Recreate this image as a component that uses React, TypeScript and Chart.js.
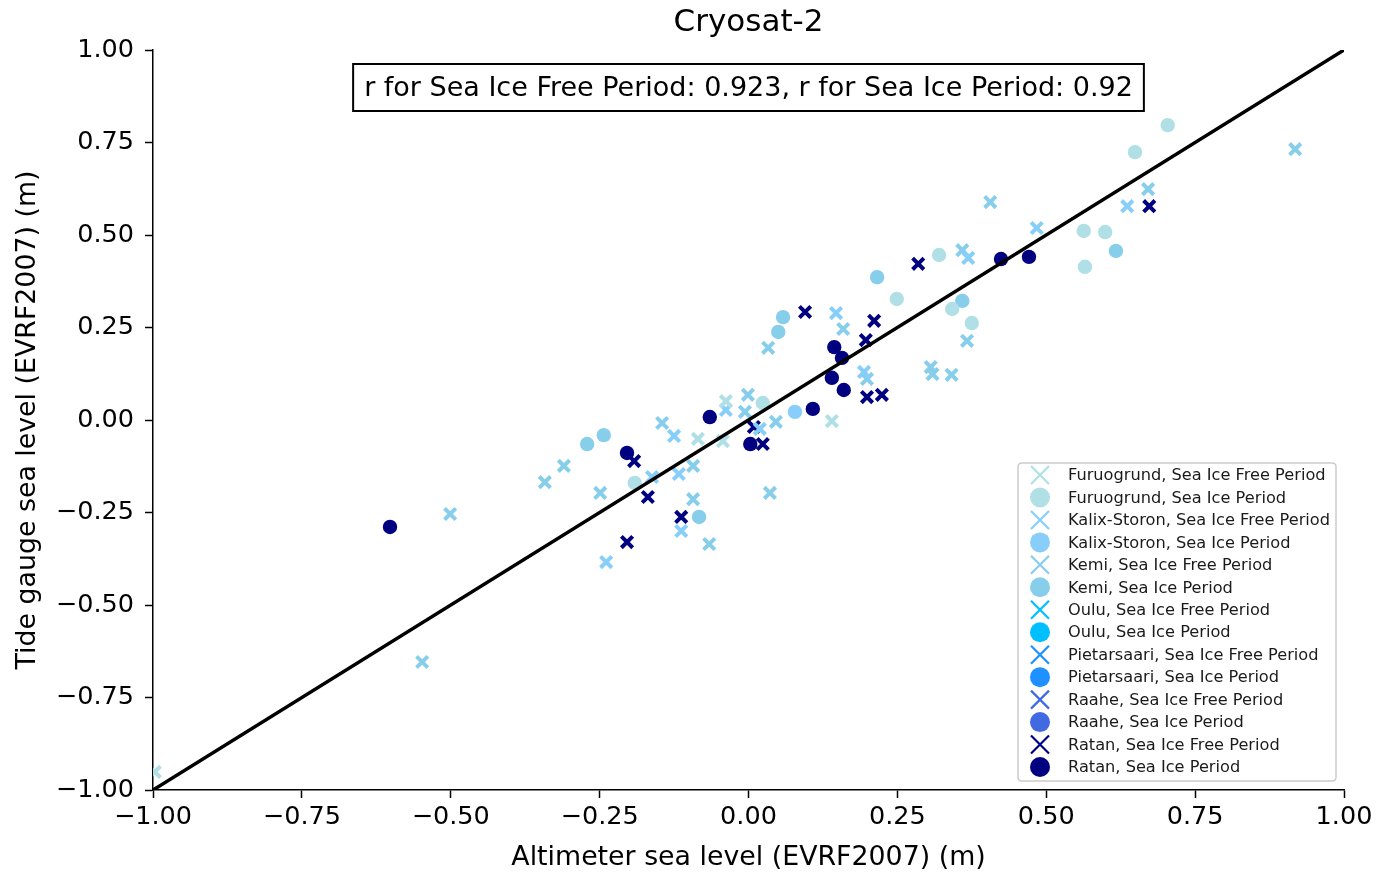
import React, { useEffect, useRef } from 'react';
import { Chart, registerables } from 'chart.js';

Chart.register(...registerables);

// ---------- data ----------
const titleText = 'Cryosat-2';
const xAxisTitle = 'Altimeter sea level (EVRF2007) (m)';
const yAxisTitle = 'Tide gauge sea level (EVRF2007) (m)';
const annotationText = 'r for Sea Ice Free Period: 0.923, r for Sea Ice Period: 0.92';
const tickValues = [-1, -0.75, -0.5, -0.25, 0, 0.25, 0.5, 0.75, 1];
const lineX = [-1, 1];
const lineY = [-1, 1];

const furuogrundFreeX = [-0.997, -0.085, -0.043, -0.038, 0.14];
const furuogrundFreeY = [-0.951, -0.051, -0.057, 0.051, -0.003];
const furuogrundIceX = [-0.191, 0.024, 0.249, 0.32, 0.342, 0.375, 0.563, 0.599, 0.565, 0.649, 0.704];
const furuogrundIceY = [-0.17, 0.046, 0.327, 0.446, 0.3, 0.262, 0.511, 0.508, 0.414, 0.724, 0.797];

const kalixFreeX = [-0.125, -0.162, -0.117, -0.113, -0.239, -0.038, 0.019, 0.147, 0.194, 0.369, 0.484, 0.636];
const kalixFreeY = [-0.043, -0.154, -0.146, -0.3, -0.384, 0.027, -0.024, 0.289, 0.13, 0.438, 0.519, 0.578];
const kalixIceX = [0.078];
const kalixIceY = [0.022];

const kemiFreeX = [-0.548, -0.501, -0.342, -0.31, -0.249, -0.145, -0.093, -0.093, -0.066, -0.001, -0.006, 0.046, 0.036, 0.033, 0.159, 0.199, 0.306, 0.309, 0.341, 0.359, 0.367, 0.406, 0.671, 0.918];
const kemiFreeY = [-0.654, -0.254, -0.168, -0.124, -0.197, -0.008, -0.124, -0.214, -0.335, 0.068, 0.022, -0.005, -0.197, 0.195, 0.246, 0.111, 0.143, 0.124, 0.122, 0.459, 0.214, 0.589, 0.624, 0.732];
const kemiIceX = [-0.271, -0.243, -0.083, 0.05, 0.058, 0.216, 0.359, 0.617];
const kemiIceY = [-0.065, -0.041, -0.262, 0.238, 0.278, 0.386, 0.322, 0.457];

const ouluFreeX: number[] = [];
const ouluFreeY: number[] = [];
const ouluIceX: number[] = [];
const ouluIceY: number[] = [];
const pietarsaariFreeX: number[] = [];
const pietarsaariFreeY: number[] = [];
const pietarsaariIceX: number[] = [];
const pietarsaariIceY: number[] = [];
const raaheFreeX: number[] = [];
const raaheFreeY: number[] = [];
const raaheIceX: number[] = [];
const raaheIceY: number[] = [];

const ratanFreeX = [-0.192, -0.169, -0.204, -0.113, 0.009, 0.024, 0.095, 0.197, 0.211, 0.199, 0.224, 0.285, 0.673];
const ratanFreeY = [-0.111, -0.208, -0.33, -0.262, -0.019, -0.065, 0.292, 0.216, 0.268, 0.062, 0.068, 0.422, 0.578];
const ratanIceX = [-0.602, -0.204, -0.065, 0.003, 0.108, 0.14, 0.144, 0.157, 0.16, 0.424, 0.471];
const ratanIceY = [-0.289, -0.089, 0.008, -0.065, 0.03, 0.114, 0.197, 0.168, 0.081, 0.435, 0.441];

const seriesNames = [
  'Furuogrund, Sea Ice Free Period',
  'Furuogrund, Sea Ice Period',
  'Kalix-Storon, Sea Ice Free Period',
  'Kalix-Storon, Sea Ice Period',
  'Kemi, Sea Ice Free Period',
  'Kemi, Sea Ice Period',
  'Oulu, Sea Ice Free Period',
  'Oulu, Sea Ice Period',
  'Pietarsaari, Sea Ice Free Period',
  'Pietarsaari, Sea Ice Period',
  'Raahe, Sea Ice Free Period',
  'Raahe, Sea Ice Period',
  'Ratan, Sea Ice Free Period',
  'Ratan, Sea Ice Period',
];
const seriesColors = [
  '#b0e0e6', '#b0e0e6',
  '#87cefa', '#87cefa',
  '#87ceeb', '#87ceeb',
  '#00bfff', '#00bfff',
  '#1e90ff', '#1e90ff',
  '#4169e1', '#4169e1',
  '#000080', '#000080',
];
const seriesX = [
  furuogrundFreeX, furuogrundIceX, kalixFreeX, kalixIceX, kemiFreeX, kemiIceX,
  ouluFreeX, ouluIceX, pietarsaariFreeX, pietarsaariIceX, raaheFreeX, raaheIceX,
  ratanFreeX, ratanIceX,
];
const seriesY = [
  furuogrundFreeY, furuogrundIceY, kalixFreeY, kalixIceY, kemiFreeY, kemiIceY,
  ouluFreeY, ouluIceY, pietarsaariFreeY, pietarsaariIceY, raaheFreeY, raaheIceY,
  ratanFreeY, ratanIceY,
];

const FONT = "'DejaVu Sans', sans-serif";

const fmt = (v: number) => Number(v).toFixed(2).replace('-', '\u2212');

const decorPlugin = {
  id: 'decor',
  afterDatasetsDraw(chart: any) {
    const ctx = chart.ctx as CanvasRenderingContext2D;
    const area = chart.chartArea;
    const cx = (area.left + area.right) / 2;
    ctx.save();
    // title
    ctx.fillStyle = '#000';
    ctx.font = `31px ${FONT}`;
    ctx.textAlign = 'center';
    ctx.textBaseline = 'middle';
    ctx.fillText(titleText, cx, 23);

    // annotation box
    ctx.font = `27px ${FONT}`;
    const tw = ctx.measureText(annotationText).width;
    const bx = cx - tw / 2 - 11;
    const bw = tw + 22;
    const by = 64;
    const bh = 47;
    ctx.fillStyle = '#fff';
    ctx.fillRect(bx, by, bw, bh);
    ctx.strokeStyle = '#000';
    ctx.lineWidth = 2;
    ctx.strokeRect(bx, by, bw, bh);
    ctx.fillStyle = '#000';
    ctx.fillText(annotationText, cx, by + bh / 2 + 1);

    // legend
    const lx = 1018, ly = 463, lw = 318, lh = 318;
    const r = 4;
    ctx.beginPath();
    ctx.moveTo(lx + r, ly);
    ctx.lineTo(lx + lw - r, ly);
    ctx.quadraticCurveTo(lx + lw, ly, lx + lw, ly + r);
    ctx.lineTo(lx + lw, ly + lh - r);
    ctx.quadraticCurveTo(lx + lw, ly + lh, lx + lw - r, ly + lh);
    ctx.lineTo(lx + r, ly + lh);
    ctx.quadraticCurveTo(lx, ly + lh, lx, ly + lh - r);
    ctx.lineTo(lx, ly + r);
    ctx.quadraticCurveTo(lx, ly, lx + r, ly);
    ctx.closePath();
    ctx.fillStyle = 'rgba(255,255,255,0.8)';
    ctx.fill();
    ctx.strokeStyle = '#cccccc';
    ctx.lineWidth = 1.5;
    ctx.stroke();

    ctx.font = `16.2px ${FONT}`;
    ctx.textAlign = 'left';
    ctx.textBaseline = 'middle';
    const datasets = chart.data.datasets.filter((d: any) => d.isSeries);
    datasets.forEach((d: any, i: number) => {
      const y = 475 + i * 22.46;
      const mx = 1040;
      if (d.pointStyle === 'crossRot') {
        ctx.strokeStyle = d.borderColor;
        ctx.lineWidth = 2.2;
        ctx.beginPath();
        ctx.moveTo(mx - 9, y - 9);
        ctx.lineTo(mx + 9, y + 9);
        ctx.moveTo(mx - 9, y + 9);
        ctx.lineTo(mx + 9, y - 9);
        ctx.stroke();
      } else {
        ctx.fillStyle = d.backgroundColor;
        ctx.beginPath();
        ctx.arc(mx, y, 10, 0, Math.PI * 2);
        ctx.fill();
      }
      ctx.fillStyle = '#1a1a1a';
      ctx.fillText(d.label, 1068, y + 1);
    });
    ctx.restore();
  },
};

export default function App() {
  const canvasRef = useRef<HTMLCanvasElement | null>(null);

  useEffect(() => {
    if (!canvasRef.current) return;
    const seriesDatasets = seriesNames.map((name, i) => {
      const isFree = i % 2 === 0;
      const pts = seriesX[i].map((x, j) => ({ x, y: seriesY[i][j] }));
      return {
        label: name,
        isSeries: true,
        data: pts,
        pointStyle: isFree ? 'crossRot' : 'circle',
        pointRadius: isFree ? 8 : 7.2,
        pointBorderWidth: isFree ? 4 : 0,
        borderWidth: isFree ? 4 : 0,
        borderColor: seriesColors[i],
        backgroundColor: seriesColors[i],
        pointBackgroundColor: seriesColors[i],
        pointBorderColor: seriesColors[i],
        showLine: false,
        order: 1,
      };
    });
    const lineDataset = {
      label: 'identity',
      isSeries: false,
      data: lineX.map((x, i) => ({ x, y: lineY[i] })),
      showLine: true,
      pointRadius: 0,
      borderColor: '#000',
      borderWidth: 3.5,
      backgroundColor: '#000',
      order: 0,
    };

    const chart = new Chart(canvasRef.current, {
      type: 'scatter',
      data: { datasets: [lineDataset as any, ...(seriesDatasets as any)] },
      options: {
        animation: false,
        responsive: false,
        events: [],
        layout: { padding: { top: 50, right: 35, left: 0, bottom: 0 } },
        plugins: {
          legend: { display: false },
          title: { display: false },
          tooltip: { enabled: false },
        },
        scales: {
          x: {
            type: 'linear',
            min: -1,
            max: 1,
            afterFit: (s: any) => { s.height = 84; },
            afterBuildTicks: (s: any) => { s.ticks = tickValues.map((v) => ({ value: v })); },
            ticks: {
              callback: (v: any) => fmt(v),
              color: '#000',
              font: { family: FONT, size: 25.5 },
              padding: 4,
              maxRotation: 0,
              autoSkip: false,
            },
            grid: { display: true, drawOnChartArea: false, drawTicks: true, tickLength: 8, tickColor: '#000', tickWidth: 1.5 },
            border: { display: true, color: '#000', width: 1.5 },
            title: {
              display: true,
              text: xAxisTitle,
              color: '#000',
              font: { family: FONT, size: 26.8 },
              padding: { top: 0, bottom: 0 },
            },
          },
          y: {
            type: 'linear',
            min: -1,
            max: 1,
            afterFit: (s: any) => { s.width = 153; },
            afterBuildTicks: (s: any) => { s.ticks = tickValues.map((v) => ({ value: v })); },
            ticks: {
              callback: (v: any) => fmt(v),
              color: '#000',
              font: { family: FONT, size: 25.5 },
              padding: 11,
              autoSkip: false,
            },
            grid: { display: true, drawOnChartArea: false, drawTicks: true, tickLength: 8, tickColor: '#000', tickWidth: 1.5 },
            border: { display: true, color: '#000', width: 1.5 },
            title: {
              display: true,
              text: yAxisTitle,
              color: '#000',
              font: { family: FONT, size: 26.8 },
              padding: { top: 12, bottom: 0 },
            },
          },
        },
      },
      plugins: [decorPlugin as any],
    });
    return () => chart.destroy();
  }, []);

  return (
    <div style={{ position: 'fixed', left: 0, top: 0, width: 1379, height: 874, background: '#fff' }}>
      <canvas ref={canvasRef} width={1379} height={874} style={{ width: 1379, height: 874, display: 'block' }} />
    </div>
  );
}
